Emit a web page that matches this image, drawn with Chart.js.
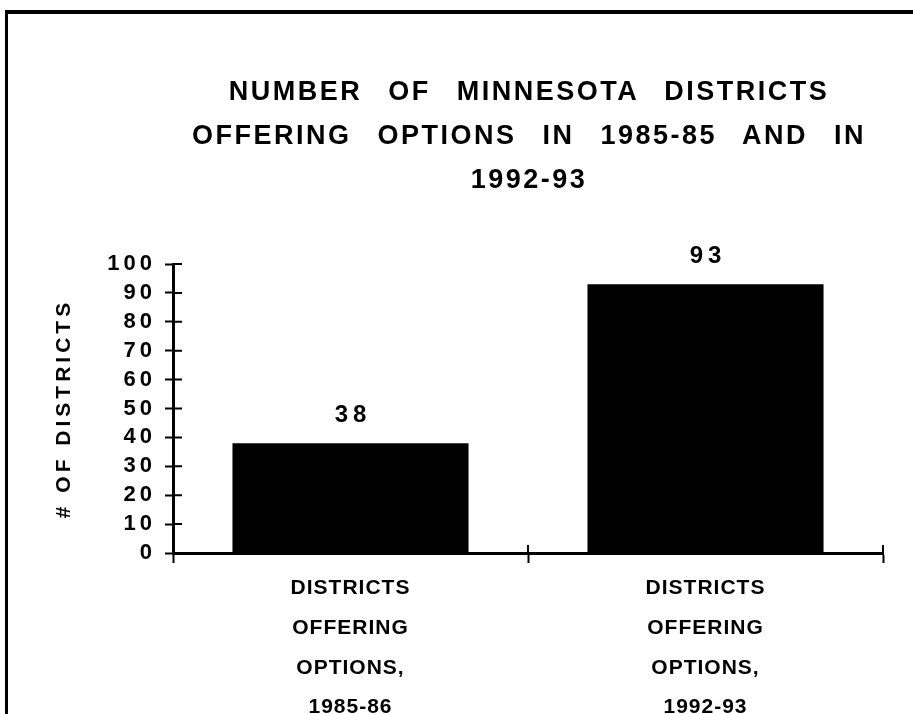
<html>
<head>
    <script src="https://cdn.jsdelivr.net/npm/chart.js"></script>
    <style>
        body { margin: 0; background: #fff; font-family: "Liberation Sans", Arial, sans-serif; }
        .page { position: relative; width: 913px; height: 714px; overflow: hidden; background: #fff; }
        .frame { position: absolute; left: 5px; top: 10px; width: 940px; height: 740px; border-left: 3px solid #000; border-top: 4px solid #000; }
        .title { position: absolute; left: 173px; width: 712px; top: 69px; text-align: center; font-weight: bold; font-size: 27px; line-height: 44px; letter-spacing: 2.5px; word-spacing: 16px; color: #000; }
        canvas { position: absolute; left: 0; top: 0; }
    </style>
</head>
<body>
    <div class="page">
        <div class="frame"></div>
        <canvas id="chart" width="913" height="714"></canvas>
        <div class="title" id="title"></div>
    </div>

    <script>
        const titleLines = ['NUMBER OF MINNESOTA DISTRICTS', 'OFFERING OPTIONS IN 1985-85 AND IN', '1992-93'];
        const categories = [
            ['DISTRICTS', 'OFFERING', 'OPTIONS,', '1985-86'],
            ['DISTRICTS', 'OFFERING', 'OPTIONS,', '1992-93']
        ];
        const districtCounts = [38, 93];
        const yAxisTitle = '# OF DISTRICTS';
        const yMin = 0;
        const yMax = 100;
        const yStep = 10;

        const fontFamily = '"Liberation Sans", Arial, sans-serif';

        document.getElementById('title').innerHTML = titleLines.join('<br>');

        // canvas letter spacing: y side wide, value labels wide, x labels tight
        const spacingPlugin = {
            id: 'spacing',
            beforeDraw(chart) {
                chart.ctx.letterSpacing = '4px';
            },
            afterDatasetsDraw(chart) {
                const ctx = chart.ctx;
                const x = chart.scales.x;
                const y = chart.scales.y;
                const meta = chart.getDatasetMeta(0);
                ctx.save();
                ctx.font = 'bold 24px ' + fontFamily;
                ctx.fillStyle = '#000';
                ctx.textAlign = 'center';
                ctx.textBaseline = 'middle';
                ctx.letterSpacing = '5px';
                meta.data.forEach((bar, i) => {
                    ctx.fillText(String(districtCounts[i]), bar.x + 2.5, bar.y - 28);
                });

                // short tick stubs on the inner side of both axes
                ctx.strokeStyle = '#000';
                ctx.lineWidth = 2;
                ctx.beginPath();
                y.ticks.forEach((t, i) => {
                    const py = y.getPixelForTick(i);
                    ctx.moveTo(x.left, py);
                    ctx.lineTo(x.left + 9, py);
                });
                const half = (x.getPixelForValue(1) - x.getPixelForValue(0)) / 2;
                for (let i = 0; i <= categories.length; i++) {
                    const px = x.getPixelForValue(0) - half + i * 2 * half;
                    ctx.moveTo(px, y.bottom);
                    ctx.lineTo(px, y.bottom - 8);
                }
                ctx.stroke();
                ctx.restore();
                ctx.letterSpacing = '1px';
            }
        };

        const ctx = document.getElementById('chart').getContext('2d');
        new Chart(ctx, {
            type: 'bar',
            data: {
                labels: categories,
                datasets: [{
                    data: districtCounts,
                    backgroundColor: '#000',
                    borderWidth: 0,
                    barPercentage: 0.665,
                    categoryPercentage: 1
                }]
            },
            options: {
                responsive: false,
                animation: false,
                layout: { padding: { top: 264, right: 30, left: 0, bottom: 0 } },
                plugins: {
                    legend: { display: false },
                    tooltip: { enabled: false },
                    title: { display: false }
                },
                scales: {
                    x: {
                        grid: { offset: true, drawOnChartArea: false, drawTicks: true, tickLength: 10, tickWidth: 2, tickColor: '#000' },
                        border: { color: '#000', width: 3 },
                        ticks: {
                            z: 1,
                            color: '#000',
                            padding: 5,
                            maxRotation: 0,
                            autoSkip: false,
                            font: { family: fontFamily, size: 21, weight: 'bold', lineHeight: 1.9 }
                        },
                        afterFit(scale) { scale.height = 161; }
                    },
                    y: {
                        min: yMin,
                        max: yMax,
                        grid: { drawOnChartArea: false, tickLength: 8, tickWidth: 2, tickColor: '#000' },
                        border: { color: '#000', width: 3 },
                        ticks: {
                            stepSize: yStep,
                            autoSkip: false,
                            color: '#000',
                            padding: 9,
                            font: { family: fontFamily, size: 22, weight: 'bold' }
                        },
                        title: {
                            display: true,
                            text: yAxisTitle,
                            color: '#000',
                            font: { family: fontFamily, size: 21, weight: 'bold' },
                            padding: { top: 52, bottom: 0 }
                        },
                        afterFit(scale) { scale.width = 173; }
                    }
                }
            },
            plugins: [spacingPlugin]
        });
    </script>
</body>
</html>
